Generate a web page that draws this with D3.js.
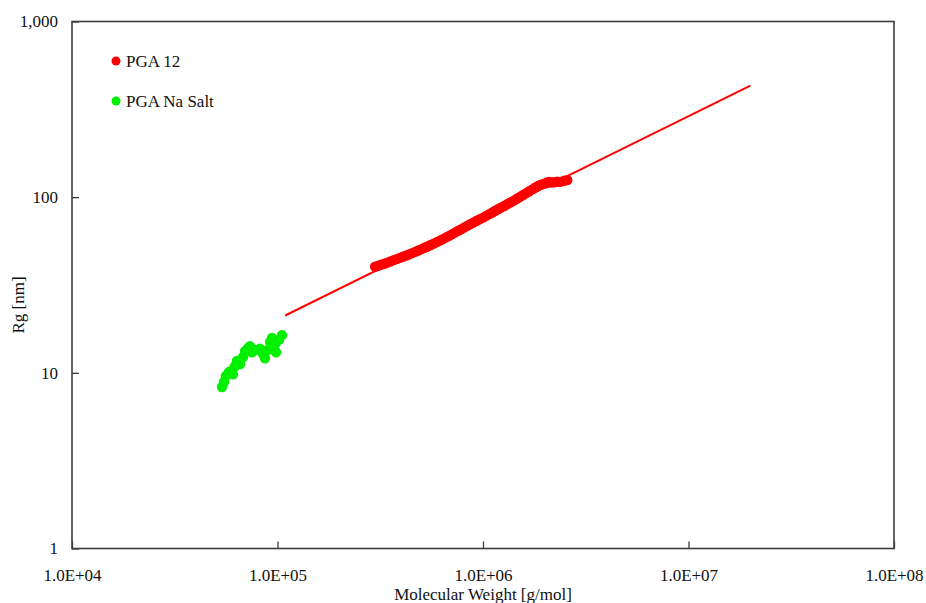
<!DOCTYPE html>
<html>
<head>
<meta charset="utf-8">
<script src="https://cdn.jsdelivr.net/npm/d3@7"></script>
<style>
  html, body { margin: 0; padding: 0; background: #fff; }
  svg { display: block; }
  svg text { font-family: "Liberation Serif", "Times New Roman", Times, "DejaVu Serif", serif !important; fill: #111; }
</style>
</head>
<body>
<svg id="chart" width="926" height="603"></svg>
<script>
// Series: PGA 12 (molecular weight in g/mol, radius of gyration in nm)
const pga12Mw = [298500, 309000, 319900, 331100, 342800, 354800, 367300, 380200, 393600, 407400,
  421700, 436500, 451900, 467700, 484200, 501200, 518800, 537000, 555900, 575400,
  595700, 616600, 638300, 660700, 683900, 707900, 732800, 758600, 785200, 812800,
  841400, 871000, 901600, 933300, 966100, 1000000, 1035000, 1072000, 1109000, 1148000,
  1189000, 1230000, 1274000, 1318000, 1365000, 1413000, 1462000, 1514000, 1567000, 1622000,
  1679000, 1738000, 1799000, 1862000, 1928000, 1995000, 2042000, 2089000, 2138000, 2213000,
  2291000, 2371000, 2483000, 2570000];
const pga12Rg = [40.2, 40.7, 41.3, 41.8, 42.4, 43.1, 43.8, 44.4, 45.1, 45.8,
  46.5, 47.2, 48.0, 48.8, 49.7, 50.6, 51.5, 52.4, 53.4, 54.4,
  55.5, 56.6, 57.7, 59.0, 60.2, 61.6, 63.0, 64.4, 65.8, 67.3,
  68.8, 70.4, 71.8, 73.4, 75.0, 76.5, 78.3, 80.0, 81.8, 83.7,
  85.6, 87.5, 89.4, 91.4, 93.5, 95.6, 98.0, 100.4, 102.9, 105.5,
  108.1, 110.8, 113.5, 116.1, 118.1, 119.4, 120.8, 121.9, 121.3, 121.6,
  122.5, 122.2, 123.9, 125.0];

// Series: PGA Na Salt
const naSaltMw = [53700, 55000, 56100, 58000, 59400, 60700, 62100, 63500, 65700, 68000,
  69500, 71800, 73400, 75100, 78600, 82200, 85000, 86900, 89900, 92000,
  94000, 97300, 98400, 101700, 105200];
const naSaltRg = [8.3, 8.9, 9.6, 10.1, 10.2, 9.8, 10.9, 11.7, 11.2, 12.3,
  13.3, 13.8, 14.2, 13.1, 13.5, 13.7, 12.8, 12.1, 13.5, 15.0,
  15.8, 14.6, 13.1, 15.4, 16.4];

// Power-law fit drawn for PGA 12 (end points)
const fitMw = [109000, 20000000];
const fitRg = [21.2, 432];

// Axis ticks
const xTicks = [1e4, 1e5, 1e6, 1e7, 1e8];
const xTickLabels = ["1.0E+04", "1.0E+05", "1.0E+06", "1.0E+07", "1.0E+08"];
const yTicks = [1, 10, 100, 1000];
const yTickLabels = ["1", "10", "100", "1,000"];

const seriesNames = ["PGA 12", "PGA Na Salt"];
const seriesColors = ["#ff0000", "#00f000"];

const fontFamily = '"Liberation Serif", "Times New Roman", Times, "DejaVu Serif", serif';

const svg = d3.select("#chart");
const plot = { left: 72, right: 894, top: 21.5, bottom: 548.5 };

const x = d3.scaleLog().domain([1e4, 1e8]).range([plot.left, plot.right]);
const y = d3.scaleLog().domain([1, 1000]).range([plot.bottom, plot.top]);

// minor ticks at 2..9 of every decade
function minorTicks(lo, hi) {
  const out = [];
  for (let d = lo; d < hi; d *= 10) for (let k = 2; k <= 9; k++) out.push(k * d);
  return out;
}

const axisColor = "#3c3c3c";

// x axis: ticks point up into the plot
const gx = svg.append("g").attr("transform", `translate(0,${plot.bottom})`);
gx.call(d3.axisBottom(x).tickValues(minorTicks(1e4, 1e8)).tickSize(-5).tickFormat(""));
gx.call(d3.axisBottom(x).tickValues(xTicks).tickSize(-7).tickPadding(20)
  .tickFormat((d, i) => xTickLabels[i]));

// y axis: ticks point right into the plot
const gy = svg.append("g").attr("transform", `translate(${plot.left},0)`);
gy.call(d3.axisLeft(y).tickValues(minorTicks(1, 1000)).tickSize(-5).tickFormat(""));
gy.call(d3.axisLeft(y).tickValues(yTicks).tickSize(-7).tickPadding(14)
  .tickFormat((d, i) => yTickLabels[i]));

svg.selectAll("g").attr("font-family", fontFamily);
svg.selectAll(".domain").remove();
svg.selectAll(".tick line").attr("stroke", axisColor).attr("stroke-width", 1.3);
svg.selectAll(".tick text").attr("font-size", 17).attr("fill", "#111")
  .style("font-family", fontFamily);

// plot frame
svg.append("rect")
  .attr("x", plot.left).attr("y", plot.top)
  .attr("width", plot.right - plot.left).attr("height", plot.bottom - plot.top)
  .attr("fill", "none").attr("stroke", axisColor).attr("stroke-width", 1.6);

// fit line
svg.append("line")
  .attr("x1", x(fitMw[0])).attr("y1", y(fitRg[0]))
  .attr("x2", x(fitMw[1])).attr("y2", y(fitRg[1]))
  .attr("stroke", seriesColors[0]).attr("stroke-width", 2);

const r = 5.2;
// PGA 12 points
svg.append("g").selectAll("circle")
  .data(pga12Mw.map((m, i) => [m, pga12Rg[i]]))
  .join("circle")
  .attr("cx", d => x(d[0])).attr("cy", d => y(d[1])).attr("r", r)
  .attr("fill", seriesColors[0]);

// PGA Na Salt points
svg.append("g").selectAll("circle")
  .data(naSaltMw.map((m, i) => [m, naSaltRg[i]]))
  .join("circle")
  .attr("cx", d => x(d[0])).attr("cy", d => y(d[1])).attr("r", r)
  .attr("fill", seriesColors[1]);

// legend
const legend = svg.append("g");
seriesNames.forEach((name, i) => {
  const ly = 61 + i * 40;
  legend.append("circle").attr("cx", 116).attr("cy", ly).attr("r", 4.5).attr("fill", seriesColors[i]);
  legend.append("text").attr("x", 126).attr("y", ly).attr("dy", "0.35em")
    .attr("font-size", 17).style("font-family", fontFamily).text(name);
});

// axis titles
svg.append("text")
  .attr("x", (plot.left + plot.right) / 2).attr("y", 600)
  .attr("text-anchor", "middle").attr("font-size", 17).style("font-family", fontFamily)
  .text("Molecular Weight [g/mol]");

svg.append("text")
  .attr("transform", `translate(24,${(plot.top + plot.bottom) / 2 + 20}) rotate(-90)`)
  .attr("text-anchor", "middle").attr("font-size", 17).style("font-family", fontFamily)
  .text("Rg [nm]");
</script>
</body>
</html>
